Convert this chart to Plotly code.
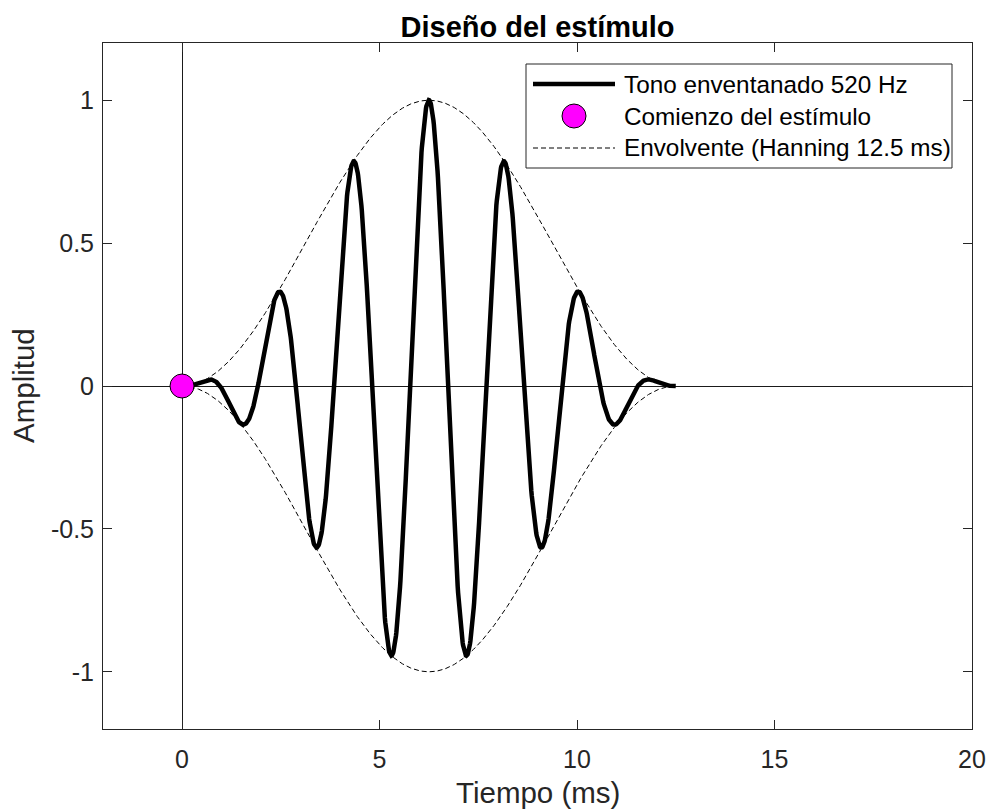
import numpy as np
import plotly.graph_objects as go

# Stimulus parameters (as stated in the legend)
freq_hz = 520.0          # tone frequency
duration_ms = 12.5       # Hanning window length
onset_ms = [0.0]         # stimulus onset
onset_amp = [0.0]

x_ticks = [0, 5, 10, 15, 20]
y_ticks = [-1, -0.5, 0, 0.5, 1]
y_tick_text = ["-1", "-0.5", "0", "0.5", "1"]

legend_labels = ["Tono enventanado 520 Hz", "Comienzo del estímulo", "Envolvente (Hanning 12.5 ms)"]

# Sampled time axis over the window, Hanning envelope and windowed tone
t_ms = np.linspace(0.0, duration_ms, 1201)
envelope = 0.5 * (1.0 - np.cos(2.0 * np.pi * t_ms / duration_ms))
tone = np.sin(2.0 * np.pi * freq_hz * t_ms / 1000.0) * envelope

AX = "#262626"
FONT = "Liberation Sans, Arial, sans-serif"
TONE_W = 4.5
DASH = "5px,3px"
MARKER_D = 24
LABEL_SIZE = 29.5

# Figure / plot-area geometry in pixels
W, H = 991, 810
ML, MR, MT, MB = 103, 19, 43, 81
PW, PH = W - ML - MR, H - MT - MB


def px(xp):
    """Horizontal pixel -> paper coordinate."""
    return (xp - ML) / PW


def py(yp):
    """Vertical pixel (from top) -> paper coordinate."""
    return (H - MB - yp) / PH


fig = go.Figure()

fig.add_trace(go.Scatter(
    x=t_ms, y=tone, mode="lines",
    line=dict(color="black", width=TONE_W),
    name=legend_labels[0],
))
fig.add_trace(go.Scatter(
    x=t_ms, y=envelope, mode="lines",
    line=dict(color="black", width=1, dash=DASH),
    name=legend_labels[2],
))
fig.add_trace(go.Scatter(
    x=t_ms, y=-envelope, mode="lines",
    line=dict(color="black", width=1, dash=DASH),
    name=legend_labels[2],
))
fig.add_trace(go.Scatter(
    x=onset_ms, y=onset_amp, mode="markers",
    marker=dict(color="#ff00ff", size=MARKER_D, line=dict(color="black", width=1)),
    name=legend_labels[1],
))

axis_common = dict(
    showline=True, linecolor=AX, linewidth=1, mirror="ticks",
    ticks="inside", ticklen=9, tickcolor=AX, tickwidth=1,
    showgrid=False, automargin=False,
    zeroline=True, zerolinecolor="#1a1a1a", zerolinewidth=1,
    tickfont=dict(family=FONT, size=25, color=AX),
)

# Boxed legend drawn in paper coordinates
box_l, box_t, box_r, box_b = 526, 64, 952, 168
row_y = [84, 116, 148]
sample_x0, sample_x1 = 533, 615
text_x = 622
marker_cx = (sample_x0 + sample_x1) / 2

shapes = [
    dict(type="rect", xref="paper", yref="paper", layer="above",
         x0=px(box_l), x1=px(box_r), y0=py(box_b), y1=py(box_t),
         fillcolor="white", line=dict(color=AX, width=1)),
    dict(type="line", xref="paper", yref="paper", layer="above",
         x0=px(sample_x0), x1=px(sample_x1), y0=py(row_y[0]), y1=py(row_y[0]),
         line=dict(color="black", width=TONE_W)),
    dict(type="circle", xref="paper", yref="paper", layer="above",
         x0=px(marker_cx - MARKER_D / 2), x1=px(marker_cx + MARKER_D / 2),
         y0=py(row_y[1] + MARKER_D / 2), y1=py(row_y[1] - MARKER_D / 2),
         fillcolor="#ff00ff", line=dict(color="black", width=1)),
    dict(type="line", xref="paper", yref="paper", layer="above",
         x0=px(sample_x0), x1=px(sample_x1), y0=py(row_y[2]), y1=py(row_y[2]),
         line=dict(color="black", width=1, dash=DASH)),
]

annotations = [
    dict(text=lbl, xref="paper", yref="paper", x=px(text_x), y=py(ry),
         xanchor="left", yanchor="middle", showarrow=False,
         font=dict(family=FONT, size=24.3, color="black"))
    for lbl, ry in zip(legend_labels, row_y)
]
# Axis titles
annotations.append(dict(
    text="Tiempo (ms)", xref="paper", yref="paper", x=0.5, y=0, yshift=-63,
    xanchor="center", yanchor="middle", showarrow=False,
    font=dict(family=FONT, size=LABEL_SIZE, color=AX)))
annotations.append(dict(
    text="Amplitud", xref="paper", yref="paper", x=0, y=0.5, xshift=-(ML - 23),
    xanchor="center", yanchor="middle", textangle=-90, showarrow=False,
    font=dict(family=FONT, size=LABEL_SIZE, color=AX)))

fig.update_layout(
    width=W, height=H,
    margin=dict(l=ML, r=MR, t=MT, b=MB),
    paper_bgcolor="white", plot_bgcolor="white",
    showlegend=False,
    title=dict(
        text="<b>Diseño del estímulo</b>",
        font=dict(family=FONT, size=29, color="black"),
        x=(ML + W - MR) / 2 / W, xanchor="center",
        y=1 - 27 / H, yanchor="middle",
    ),
    xaxis=dict(range=[-2, 20], tickvals=x_ticks, ticklabelstandoff=8, **axis_common),
    yaxis=dict(range=[-1.2, 1.2], tickvals=y_ticks, ticktext=y_tick_text,
               ticklabelstandoff=3, **axis_common),
    shapes=shapes,
    annotations=annotations,
)

fig.write_html("out.html")
